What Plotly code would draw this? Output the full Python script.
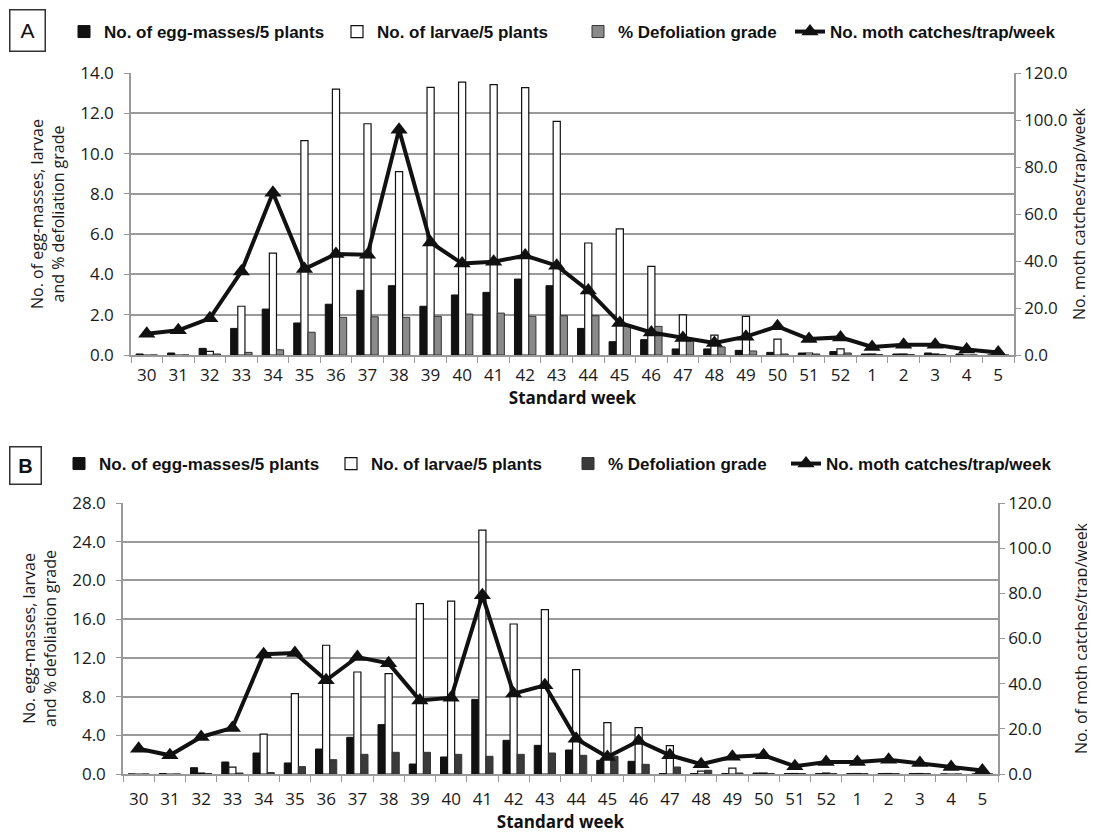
import plotly.graph_objects as go
from plotly.subplots import make_subplots

weeks = ["30","31","32","33","34","35","36","37","38","39","40","41","42","43","44","45","46","47","48","49","50","51","52","1","2","3","4","5"]

# Panel A
a_egg = [0.05,0.1,0.33,1.32,2.28,1.59,2.52,3.21,3.44,2.42,2.98,3.11,3.77,3.44,1.32,0.66,0.76,0.3,0.3,0.23,0.13,0.1,0.17,0.05,0.05,0.1,0.05,0.0]
a_larvae = [0.0,0.0,0.18,2.42,5.06,10.64,13.2,11.48,9.1,13.29,13.55,13.42,13.27,11.6,5.56,6.26,4.4,1.99,0.99,1.92,0.79,0.1,0.3,0.05,0.05,0.05,0.0,0.0]
a_defol = [0.0,0.0,0.05,0.13,0.26,1.13,1.87,1.9,1.87,1.92,2.03,2.08,1.92,1.95,1.95,1.42,1.42,0.68,0.4,0.2,0.05,0.05,0.1,0.02,0.02,0.02,0.0,0.0]
a_moth = [9.0,10.5,15.6,35.5,69.0,36.6,43.0,42.7,95.9,47.9,38.9,39.7,42.3,38.0,27.5,13.6,9.6,7.2,5.1,7.8,12.2,6.8,7.5,3.4,4.4,4.4,2.3,1.1]

# Panel B
b_egg = [0.0,0.05,0.65,1.24,2.17,1.14,2.58,3.79,5.1,1.03,1.76,7.71,3.48,2.96,2.48,1.41,1.31,0.05,0.05,0.05,0.1,0.05,0.05,0.05,0.05,0.05,0.0,0.0]
b_larvae = [0.0,0.0,0.1,0.72,4.13,8.3,13.3,10.54,10.37,17.6,17.87,25.2,15.5,16.98,10.78,5.3,4.79,2.93,0.3,0.6,0.1,0.05,0.1,0.05,0.05,0.05,0.0,0.0]
b_defol = [0.0,0.0,0.05,0.1,0.15,0.76,1.48,2.03,2.24,2.24,2.03,1.83,2.03,2.17,1.93,1.83,1.0,0.72,0.38,0.1,0.05,0.05,0.05,0.05,0.05,0.05,0.0,0.0]
b_moth = [11.2,8.3,16.4,20.4,53.0,53.6,41.5,51.8,49.0,32.6,33.8,79.1,35.6,39.3,15.6,7.5,14.6,8.3,4.3,7.6,8.3,3.4,5.3,5.3,6.3,4.9,3.1,1.6]

series_names = ["No. of egg-masses/5 plants", "No. of larvae/5 plants", "% Defoliation grade", "No. moth catches/trap/week"]
left_ticks_a = [0, 2, 4, 6, 8, 10, 12, 14]
left_ticks_b = [0, 4, 8, 12, 16, 20, 24, 28]
right_ticks = [0, 20, 40, 60, 80, 100, 120]

W, H = 1095, 833
OFF = 8  # page body offset


def fx(px):
    return (px - OFF) / W


def fy(py):
    return 1 - (py - OFF) / H


TICKFONT = dict(family="Open Sans, Noto Sans, sans-serif", size=17, color="#1a1a1a")
TITLEFONT = dict(family="Open Sans, Noto Sans, sans-serif", size=16, color="#1a1a1a")
LEGFONT = dict(family="Liberation Sans, Arial, sans-serif", size=17, color="#111", weight="bold")

fig = make_subplots(rows=2, cols=1, specs=[[{"secondary_y": True}], [{"secondary_y": True}]])


def add_panel(row, egg, larvae, defol, moth, defcol, legs):
    fig.add_trace(go.Bar(x=weeks, y=egg, name=series_names[0], showlegend=True,
                         marker=dict(color="#111111", line=dict(color="#111111", width=1)), legend=legs[0]),
                  row=row, col=1, secondary_y=False)
    fig.add_trace(go.Bar(x=weeks, y=larvae, name=series_names[1], showlegend=True,
                         marker=dict(color="white", line=dict(color="#111111", width=1.2)), legend=legs[1]),
                  row=row, col=1, secondary_y=False)
    fig.add_trace(go.Bar(x=weeks, y=defol, name=series_names[2], showlegend=True,
                         marker=dict(color=defcol, line=dict(color="#333333", width=1)), legend=legs[2]),
                  row=row, col=1, secondary_y=False)
    fig.add_trace(go.Scatter(x=weeks, y=moth, name=series_names[3], mode="lines+markers", showlegend=True,
                             line=dict(color="#111111", width=4),
                             marker=dict(symbol="triangle-up", size=15, color="#111111"),
                             legend=legs[3]),
                  row=row, col=1, secondary_y=True)


add_panel(1, a_egg, a_larvae, a_defol, a_moth, "#8a8a8a", ["legend", "legend2", "legend3", "legend4"])
add_panel(2, b_egg, b_larvae, b_defol, b_moth, "#3a3a3a", ["legend5", "legend6", "legend7", "legend8"])

legends = {}
text_starts_a = [104, 377, 618, 830]
text_starts_b = [99, 371, 608, 826]
for i, xs in enumerate(text_starts_a):
    key = "legend" if i == 0 else "legend%d" % (i + 1)
    legends[key] = dict(x=fx(xs - 40), y=fy(32), xanchor="left", yanchor="middle", font=LEGFONT,
                        itemwidth=30, bgcolor="rgba(0,0,0,0)", orientation="h", visible=True)
for i, xs in enumerate(text_starts_b):
    key = "legend%d" % (i + 5)
    legends[key] = dict(x=fx(xs - 40), y=fy(464), xanchor="left", yanchor="middle", font=LEGFONT,
                        itemwidth=30, bgcolor="rgba(0,0,0,0)", orientation="h", visible=True)

fig.update_layout(
    width=W, height=H,
    showlegend=True,
    margin=dict(l=0, r=0, t=0, b=0, autoexpand=False),
    paper_bgcolor="white", plot_bgcolor="white",
    barmode="group", bargap=0.32, bargroupgap=0.0,
    **legends,
)

xcommon = dict(type="category", range=[-0.5, 27.5], tickfont=TICKFONT, showline=True, linecolor="#999999",
               linewidth=1.5, ticks="outside", tickson="boundaries", ticklen=6, tickcolor="#999999",
               showgrid=False, automargin=False,
               title=dict(text="<b>Standard week</b>", font=dict(family="Open Sans, sans-serif", size=17, color="#111"), standoff=2))
fig.update_xaxes(domain=[fx(131), fx(1014)], ticklabelstandoff=4, **xcommon, row=1, col=1)
fig.update_xaxes(domain=[fx(123), fx(998)], ticklabelstandoff=9, **xcommon, row=2, col=1)

fig.update_yaxes(domain=[fy(355), fy(73)], row=1, col=1)
fig.update_yaxes(domain=[fy(774), fy(503)], row=2, col=1)

common_y = dict(tickfont=TICKFONT, showline=True, linecolor="#999999", linewidth=1.5, ticks="outside", ticklen=5,
                tickcolor="#999999", zeroline=False, automargin=False, tickformat=".1f")
fig.update_yaxes(range=[0, 14], tickvals=left_ticks_a, showgrid=True, gridcolor="#9a9a9a", gridwidth=1.5,
                 ticklabelstandoff=7,
                 title=dict(text="No. of egg-masses, larvae<br>and % defoliation grade", font=TITLEFONT, standoff=12),
                 **common_y, row=1, col=1, secondary_y=False)
fig.update_yaxes(range=[0, 120], tickvals=right_ticks, showgrid=False,
                 title=dict(text="No. moth catches/trap/week", font=TITLEFONT, standoff=4),
                 **common_y, row=1, col=1, secondary_y=True)
fig.update_yaxes(range=[0, 28], tickvals=left_ticks_b, showgrid=True, gridcolor="#9a9a9a", gridwidth=1.5,
                 ticklabelstandoff=7,
                 title=dict(text="No. egg-masses, larvae<br>and % defoliation grade", font=TITLEFONT, standoff=12),
                 **common_y, row=2, col=1, secondary_y=False)
fig.update_yaxes(range=[0, 120], tickvals=right_ticks, showgrid=False,
                 title=dict(text="No. of moth catches/trap/week", font=TITLEFONT, standoff=25),
                 **common_y, row=2, col=1, secondary_y=True)

fig.add_annotation(text="A", xref="paper", yref="paper", x=fx(27), y=fy(31), xanchor="center", yanchor="middle",
                   showarrow=False,
                   font=dict(family="Liberation Sans, sans-serif", size=21, color="#111"),
                   bordercolor="#333", borderwidth=1.5, borderpad=4, width=26, height=32)
fig.add_annotation(text="<b>B</b>", xref="paper", yref="paper", x=fx(25), y=fy(465), xanchor="center", yanchor="middle",
                   showarrow=False,
                   font=dict(family="Liberation Sans, sans-serif", size=20, color="#111"),
                   bordercolor="#333", borderwidth=1.5, borderpad=4, width=22, height=28)

fig.write_html("out.html")
